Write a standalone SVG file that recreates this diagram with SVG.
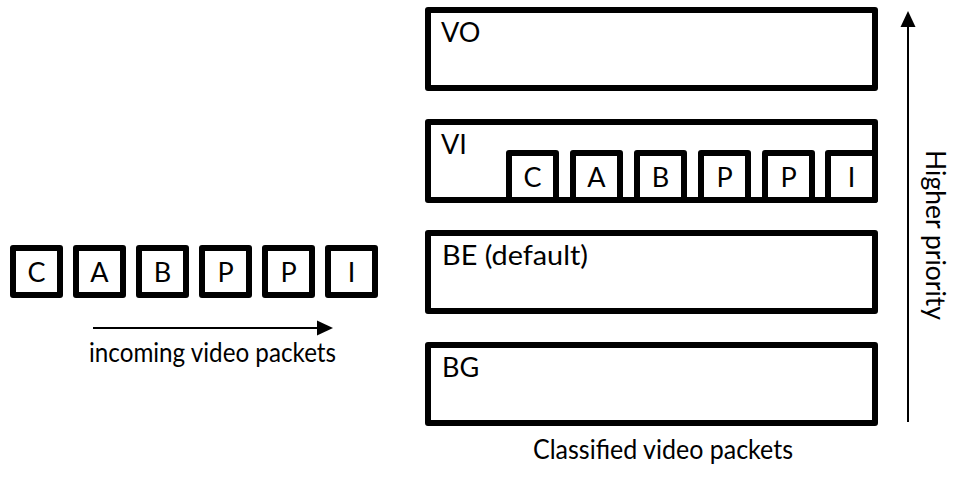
<svg xmlns="http://www.w3.org/2000/svg" width="953" height="480" viewBox="0 0 953 480">
  <style>
    .box { fill: #ffffff; stroke: #000000; stroke-width: 6; stroke-linejoin: round; }
    .pkt { fill: #ffffff; stroke: #000000; stroke-width: 6; stroke-linejoin: round; }
    .lbl { font-family: Lato, "Liberation Sans", sans-serif; font-size: 27px; fill: #000000; }
    .ctr { text-anchor: middle; }
    .conn { stroke: #000000; stroke-width: 2; fill: none; }
  </style>
  <defs>
    <marker id="arrow" markerUnits="userSpaceOnUse" markerWidth="16" markerHeight="16" viewBox="0 0 16 16" refX="1" refY="8" orient="auto">
      <path d="M0,0.5 L16,8 L0,15.5 Z" fill="#000000"/>
    </marker>
  </defs>
  <rect width="953" height="480" fill="#ffffff"/>

  <!-- incoming packets -->
  <g id="in-C"><rect class="pkt" x="13" y="248" width="47" height="47"/><text class="lbl ctr" x="36.5" y="281.5">C</text></g>
  <g id="in-A"><rect class="pkt" x="76" y="248" width="47" height="47"/><text class="lbl ctr" x="99.5" y="281.5">A</text></g>
  <g id="in-B"><rect class="pkt" x="139" y="248" width="47" height="47"/><text class="lbl ctr" x="162.5" y="281.5">B</text></g>
  <g id="in-P1"><rect class="pkt" x="202" y="248" width="47" height="47"/><text class="lbl ctr" x="225.5" y="281.5">P</text></g>
  <g id="in-P2"><rect class="pkt" x="265" y="248" width="47" height="47"/><text class="lbl ctr" x="288.5" y="281.5">P</text></g>
  <g id="in-I"><rect class="pkt" x="328" y="248" width="47" height="47"/><text class="lbl ctr" x="351.5" y="281.5">I</text></g>

  <!-- queues -->
  <g id="queue-VO"><rect class="box" x="428" y="10" width="447" height="78"/><text class="lbl" x="441" y="42">VO</text></g>
  <g id="queue-VI"><rect class="box" x="428" y="122" width="447" height="78"/><text class="lbl" x="441" y="154">VI</text></g>
  <g id="queue-BE"><rect class="box" x="428" y="233" width="447" height="78"/><text class="lbl" x="442" y="265" textLength="146" lengthAdjust="spacingAndGlyphs">BE (default)</text></g>
  <g id="queue-BG"><rect class="box" x="428" y="345" width="447" height="78"/><text class="lbl" x="442" y="377">BG</text></g>

  <!-- classified packets in VI -->
  <g id="vi-C"><rect class="pkt" x="509" y="153" width="47" height="47"/><text class="lbl ctr" x="532.5" y="186.5">C</text></g>
  <g id="vi-A"><rect class="pkt" x="573" y="153" width="47" height="47"/><text class="lbl ctr" x="596.5" y="186.5">A</text></g>
  <g id="vi-B"><rect class="pkt" x="637" y="153" width="47" height="47"/><text class="lbl ctr" x="660.5" y="186.5">B</text></g>
  <g id="vi-P1"><rect class="pkt" x="701" y="153" width="47" height="47"/><text class="lbl ctr" x="724.5" y="186.5">P</text></g>
  <g id="vi-P2"><rect class="pkt" x="765" y="153" width="47" height="47"/><text class="lbl ctr" x="788.5" y="186.5">P</text></g>
  <g id="vi-I"><rect class="pkt" x="828" y="153" width="47" height="47"/><text class="lbl ctr" x="851.5" y="186.5">I</text></g>

  <!-- connectors -->
  <g id="connectors">
    <line class="conn" x1="93" y1="328" x2="318" y2="328" marker-end="url(#arrow)"/>
    <line class="conn" x1="908" y1="422" x2="908" y2="26" marker-end="url(#arrow)"/>
  </g>

  <!-- captions -->
  <g id="caption-incoming"><text class="lbl" x="89" y="362" textLength="247" lengthAdjust="spacingAndGlyphs">incoming video packets</text></g>
  <g id="caption-classified"><text class="lbl" x="533" y="459" textLength="260" lengthAdjust="spacingAndGlyphs">Classified video packets</text></g>
  <g id="caption-priority"><text class="lbl ctr" transform="translate(926,235) rotate(90)" x="0" y="0" textLength="170" lengthAdjust="spacingAndGlyphs">Higher priority</text></g>
</svg>
